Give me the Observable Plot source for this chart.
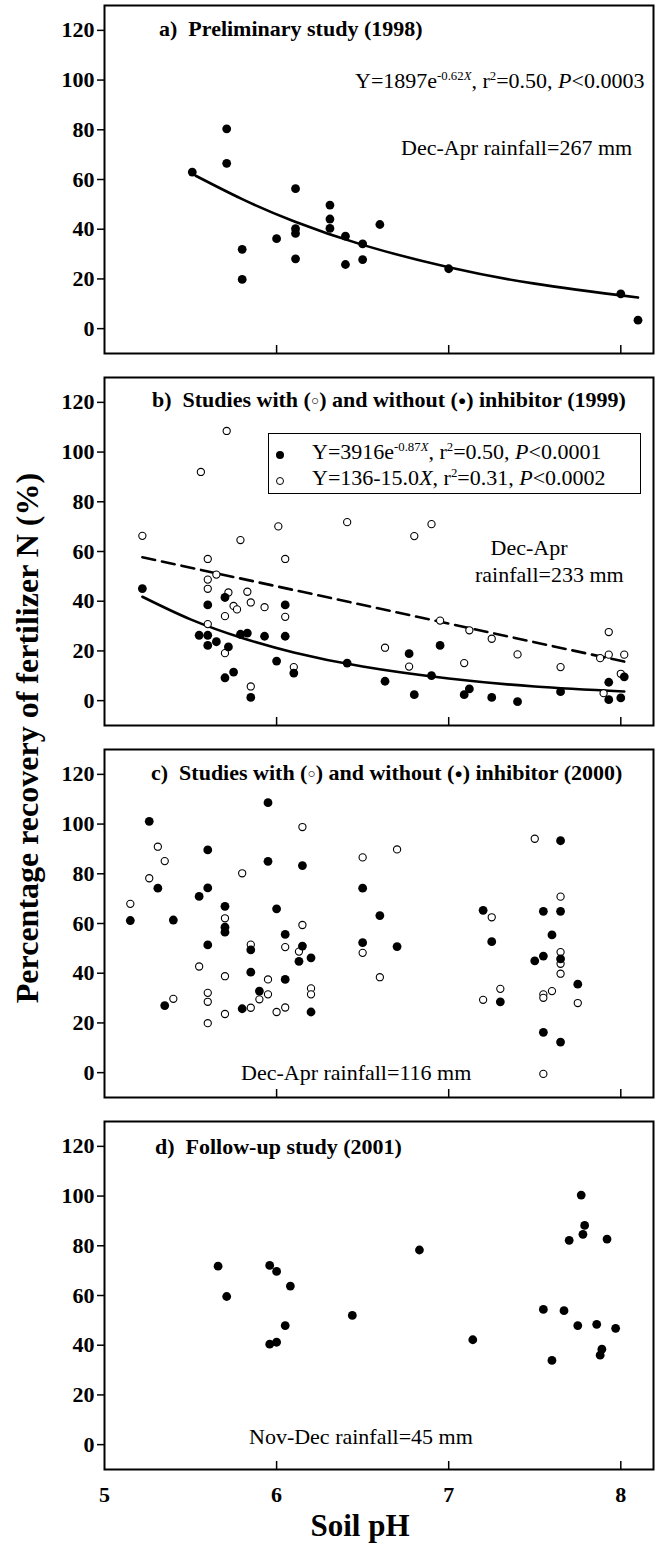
<!DOCTYPE html>
<html><head><meta charset="utf-8">
<script src="https://cdn.jsdelivr.net/npm/d3@7"></script>
<script src="https://cdn.jsdelivr.net/npm/@observablehq/plot@0.6"></script>
<style>
body{margin:0;background:#fff;}
#root{position:relative;width:661px;height:1544px;overflow:hidden;font-family:"Liberation Serif","Times New Roman",serif;color:#000;background:#fff;}
.t{position:absolute;white-space:pre;line-height:1;}
sup{font-size:0.58em;vertical-align:0.6em;line-height:0;}
.pnl{position:absolute;left:0;}
.legend{position:absolute;border:1.2px solid #000;background:#fff;}
</style></head><body><div id="root"></div>
<script>
// ---- data ----
const xTicks = [5, 6, 7, 8];
const yTicks = [0, 20, 40, 60, 80, 100, 120];

// a) Preliminary study (1998)
const aX = [5.51,5.71,5.71,5.80,5.80,6.00,6.11,6.11,6.11,6.11,6.31,6.31,6.31,6.40,6.40,6.50,6.50,6.60,7.00,8.00,8.10];
const aY = [63.0,80.4,66.5,31.9,19.8,36.2,56.3,40.2,38.3,28.1,49.7,44.1,40.3,37.2,25.8,34.1,27.8,41.9,24.1,14.0,3.4];
const aFitX = [5.53,5.8,6.1,6.5,7.0,7.5,8.1];
const aFitY = [61.5,52.1,43.2,33.7,24.7,18.1,12.5];

// b) 1999 — without inhibitor (filled), with inhibitor (open)
const bFX = [5.22,5.60,5.55,5.60,5.60,5.65,5.70,5.72,5.70,5.75,5.79,5.83,5.85,5.93,6.00,6.05,6.05,6.10,6.41,6.63,6.77,6.80,6.90,6.95,7.09,7.12,7.25,7.40,7.65,7.93,7.93,8.00,8.02];
const bFY = [45.1,38.5,26.3,26.3,22.2,23.7,41.5,21.6,9.2,11.5,26.7,27.2,1.3,25.9,15.9,38.5,25.9,11.1,15.1,7.8,18.9,2.4,10.1,22.2,2.4,4.7,1.3,-0.4,3.6,7.4,0.4,1.1,9.6];
const bOX = [5.22,5.56,5.71,5.60,5.60,5.60,5.65,5.60,5.70,5.70,5.72,5.75,5.77,5.79,5.83,5.85,5.85,5.93,6.01,6.05,6.05,6.10,6.41,6.63,6.77,6.80,6.90,6.95,7.09,7.12,7.25,7.40,7.65,7.88,7.93,7.93,8.02,8.00,7.90];
const bOY = [66.3,92.0,108.5,57.0,48.7,45.0,50.7,30.8,34.0,19.1,43.5,38.1,36.7,64.6,43.8,39.5,5.7,37.6,70.1,57.0,33.7,13.5,71.8,21.3,13.7,66.2,71.0,32.2,15.1,28.3,24.9,18.6,13.5,17.1,27.6,18.5,18.5,10.8,3.0];
const bSolidX = [5.22,5.5,5.8,6.1,6.5,7.0,7.5,8.02];
const bSolidY = [41.8,32.7,25.2,19.4,13.7,8.9,5.7,3.7];
const bDashX = [5.22,8.02];
const bDashY = [57.7,15.7];

// c) 2000
const cFX = [5.15,5.26,5.31,5.35,5.40,5.55,5.60,5.60,5.60,5.70,5.70,5.70,5.80,5.85,5.85,5.90,5.95,5.95,6.00,6.05,6.05,6.13,6.15,6.15,6.20,6.20,6.50,6.50,6.60,6.70,7.20,7.25,7.30,7.50,7.55,7.55,7.55,7.60,7.65,7.65,7.65,7.65,7.75];
const cFY = [61.2,101.1,74.2,27.0,61.4,70.9,74.3,89.6,51.4,66.9,58.5,56.5,25.7,49.4,40.4,32.8,108.6,85.0,65.9,55.6,37.5,44.8,83.3,50.9,46.2,24.4,74.2,52.3,63.2,50.7,65.3,52.7,28.5,45.0,64.9,46.9,16.2,55.4,93.3,64.9,45.8,12.3,35.6];
const cOX = [5.15,5.26,5.31,5.35,5.40,5.55,5.60,5.60,5.60,5.70,5.70,5.70,5.80,5.85,5.85,5.90,5.95,5.95,6.00,6.05,6.05,6.13,6.15,6.15,6.20,6.20,6.50,6.50,6.60,6.70,7.20,7.25,7.30,7.50,7.55,7.55,7.60,7.65,7.65,7.65,7.65,7.75,7.55];
const cOY = [67.9,78.2,90.9,85.1,29.7,42.7,32.1,28.5,19.9,62.1,38.8,23.6,80.2,51.5,26.1,29.5,37.5,31.5,24.4,50.5,26.2,48.7,98.8,59.4,33.9,31.5,86.6,48.2,38.4,89.8,29.3,62.5,33.7,94.1,31.5,30.1,32.8,70.8,48.5,43.8,39.8,28.0,-0.5];

// d) Follow-up study (2001)
const dX = [5.66,5.71,5.96,5.96,6.00,6.00,6.08,6.05,6.44,6.83,7.14,7.55,7.60,7.67,7.70,7.75,7.77,7.78,7.79,7.86,7.88,7.89,7.92,7.97];
const dY = [71.8,59.6,72.1,40.4,41.2,69.7,63.8,47.9,52.0,78.3,42.2,54.4,33.9,53.9,82.2,47.9,100.4,84.6,88.2,48.4,36.0,38.4,82.7,46.8];

// ---- drawing ----
const root = document.getElementById("root");
const FRAME_H = 348, MT = 2;
const FONT = "'Liberation Serif','Times New Roman',serif";

const filled = (X, Y) => Plot.dot(d3.range(X.length), {x: i => X[i], y: i => Y[i], r: 4.4, fill: "#000", stroke: "none"});
const open = (X, Y) => Plot.dot(d3.range(X.length), {x: i => X[i], y: i => Y[i], r: 3.6, fill: "#fff", stroke: "#000", strokeWidth: 1.1});
const fit = (X, Y, dash) => Plot.line(d3.range(X.length), {x: i => X[i], y: i => Y[i], curve: "natural", stroke: "#000", strokeWidth: 2.6, strokeDasharray: dash || null});

function panel(top, marks, withXLabels) {
  const mb = withXLabels ? 74 : 2;
  const svg = Plot.plot({
    width: 661,
    height: FRAME_H + MT + mb,
    marginLeft: 104, marginRight: 8, marginTop: MT, marginBottom: mb,
    x: {domain: [5, 8.19]},
    y: {domain: [-10, 130]},
    style: {fontFamily: FONT, background: "transparent", color: "#000", overflow: "visible"},
    marks: [
      Plot.axisY({ticks: yTicks, tickSize: 7, tickPadding: 3, fontSize: 22, fontWeight: "bold", label: null, strokeWidth: 1.5}),
      Plot.axisX({ticks: xTicks.slice(1), tickSize: -8, tickFormat: () => "", label: null, strokeWidth: 1.5}),
      withXLabels ? Plot.axisX({ticks: xTicks, tickSize: 0, tickPadding: 17, tickFormat: d => String(d), fontSize: 22, fontWeight: "bold", label: null}) : null,
      ...marks,
      Plot.frame({stroke: "#000", strokeWidth: 2})
    ]
  });
  const wrap = document.createElement("div");
  wrap.className = "pnl";
  wrap.style.top = (top - MT) + "px";
  wrap.appendChild(svg);
  root.appendChild(wrap);
}

panel(5, [fit(aFitX, aFitY), filled(aX, aY)]);
panel(377, [fit(bDashX, bDashY, "13,7"), fit(bSolidX, bSolidY), open(bOX, bOY), filled(bFX, bFY)]);
panel(749, [open(cOX, cOY), filled(cFX, cFY)]);
panel(1121, [filled(dX, dY)], true);

function addText(html, x, y, {size = 22, bold = false, anchor = "start", rotate = 0} = {}) {
  const d = document.createElement("div");
  d.className = "t";
  d.innerHTML = html;
  d.style.left = x + "px";
  d.style.top = y + "px";
  d.style.fontSize = size + "px";
  d.style.fontWeight = bold ? "bold" : "normal";
  const tx = anchor === "middle" ? "-50%" : anchor === "end" ? "-100%" : "0";
  d.style.transform = `translate(${tx},-50%)` + (rotate ? ` rotate(${rotate}deg)` : "");
  root.appendChild(d);
  return d;
}

const oSym = '<span style="font-size:0.62em;vertical-align:0.12em">○</span>';
const fSym = '<span style="font-size:0.62em;vertical-align:0.12em">●</span>';

// panel a
addText("a)  Preliminary study (1998)", 159, 29, {bold: true});
addText('Y=1897e<sup>-0.62<i>X</i></sup>, r<sup>2</sup>=0.50, <i>P</i>&lt;0.0003', 355, 81);
addText("Dec-Apr rainfall=267 mm", 401, 148);

// panel b
addText(`b)  Studies with (${oSym}) and without (${fSym}) inhibitor (1999)`, 152, 400, {bold: true});
const lg = document.createElement("div");
lg.className = "legend";
Object.assign(lg.style, {left: "268px", top: "433px", width: "371px", height: "59px"});
root.appendChild(lg);
addText('<span style="display:inline-block;width:8px;height:8px;border-radius:50%;background:#000"></span>', 276, 452);
addText('<span style="display:inline-block;width:6px;height:6px;border-radius:50%;border:1px solid #000"></span>', 276, 478);
addText('Y=3916e<sup>-0.87<i>X</i></sup>, r<sup>2</sup>=0.50, <i>P</i>&lt;0.0001', 312, 452);
addText('Y=136-15.0<i>X</i>, r<sup>2</sup>=0.31, <i>P</i>&lt;0.0002', 312, 478);
addText("Dec-Apr", 529, 548, {anchor: "middle"});
addText("rainfall=233 mm", 475, 575);

// panel c
addText(`c)  Studies with (${oSym}) and without (${fSym}) inhibitor (2000)`, 151, 773, {bold: true});
addText("Dec-Apr rainfall=116 mm", 241, 1073);

// panel d
addText("d)  Follow-up study (2001)", 155, 1147, {bold: true});
addText("Nov-Dec rainfall=45 mm", 249, 1437);

// axis titles
addText("Percentage recovery of fertilizer N (%)", 27, 738, {size: 32, bold: true, anchor: "middle", rotate: -90});
addText("Soil pH", 360, 1525, {size: 31, bold: true, anchor: "middle"});
</script>
</body></html>
